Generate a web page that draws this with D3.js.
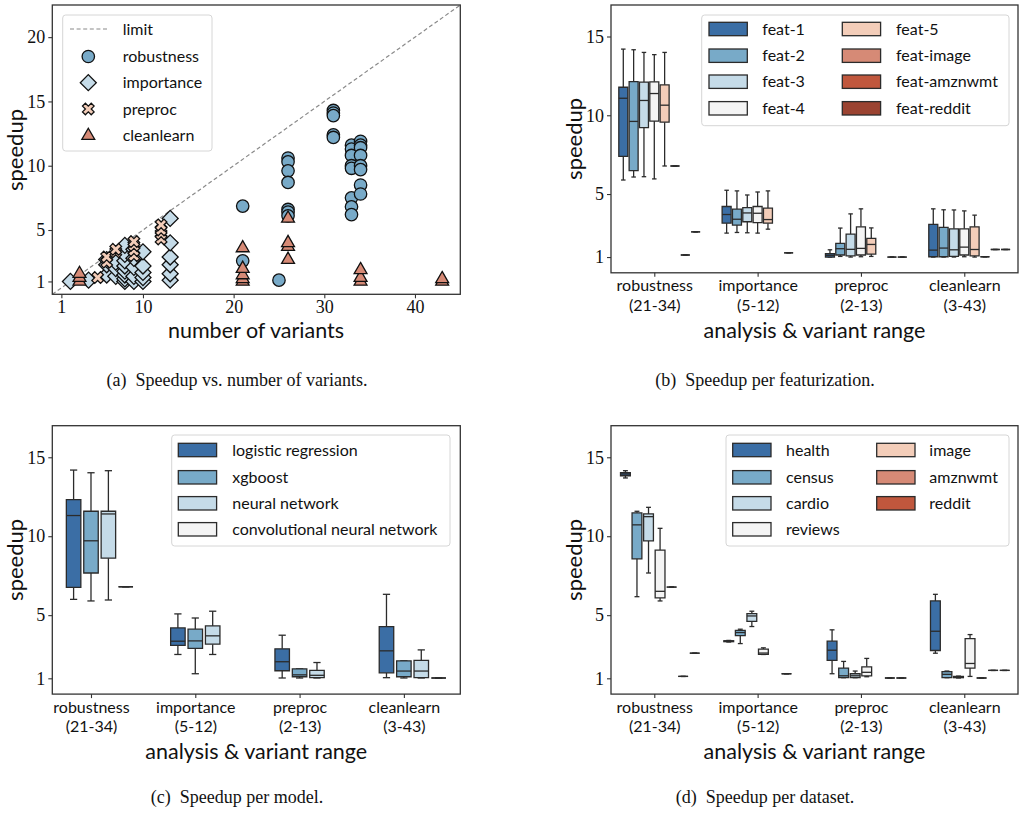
<!DOCTYPE html>
<html><head><meta charset="utf-8">
<script src="https://cdn.jsdelivr.net/npm/d3@7"></script>
<style>body{margin:0;background:#fff}svg{display:block}</style>
</head><body>
<svg id="c" width="1021" height="813"></svg>
<script>
// ---------------- DATA ----------------
const analyses = ["robustness","importance","preproc","cleanlearn"];
const analysisRanges = ["(21-34)","(5-12)","(2-13)","(3-43)"];

// (a) scatter: [number of variants, speedup]
const limitLine = [[0,0],[45,22.5]];
const robustnessPts = [[21,6.86],[21,2.6],[25,1.1],[26,10.6],[26,10.3],[26,9.6],[26,8.7],[26,6.6],[26,6.4],[26,6.1],
  [31,14.3],[31,14.1],[31,13.9],[31,12.4],[31,12.2],
  [33,11.6],[33,11.3],[33,10.8],[33,10.0],[33,9.8],[33,7.5],[33,6.8],[33,6.2],
  [34,11.9],[34,11.6],[34,11.4],[34,10.8],[34,10.0],[34,9.7],[34,8.5],[34,7.8]];
const importancePts = [[2,1.0],[4,1.1],[6,1.5],[6,2.3],[6,2.7],[7,1.4],[7,2.0],[7,2.5],
  [8,1.0],[8,1.2],[8,1.5],[8,1.8],[8,2.2],[8,2.6],[8,3.1],[8,3.8],
  [9,1.0],[9,1.4],[9,2.1],[9,2.8],[9,3.5],[10,1.0],[10,1.3],[10,1.7],[10,2.2],[10,3.3],
  [13,1.1],[13,1.6],[13,2.3],[13,2.9],[13,4.0],[13,5.9]];
const preprocPts = [[5,1.3],[6,2.5],[6,2.9],[7,3.3],[7,3.5],[9,3.0],[9,3.4],[9,3.8],[9,4.1],
  [12,4.3],[12,4.7],[12,5.0],[12,5.4]];
const cleanlearnPts = [[3,1.0],[3,1.3],[3,1.6],[21,1.0],[21,1.2],[21,1.5],[21,2.0],[21,3.6],
  [26,2.7],[26,3.7],[26,4.0],[26,5.9],[34,1.0],[34,1.3],[34,1.9],[43,1.0],[43,1.2]];
const scatterXTicks = [1,10,20,30,40];
const scatterYTicks = [1,5,10,15,20];
const boxYTicks = [1,5,10,15];

// (b) featurization boxes: [analysis, level, low, q1, median, q3, high]
const featLevels = ["feat-1","feat-2","feat-3","feat-4","feat-5","feat-image","feat-amznwmt","feat-reddit"];
const featColors = ["#3b6ea5","#78aac8","#c5dbe8","#f4f4f4","#f3cdb9","#d68a76","#c0573d","#9b4331"];
const featBoxes = [
  ["robustness","feat-1",5.89,7.39,11.08,11.78,14.2],
  ["robustness","feat-2",6.08,6.49,9.61,12.14,14.16],
  ["robustness","feat-3",6.1,9.21,10.94,12.1,13.99],
  ["robustness","feat-4",5.96,9.63,11.38,12.12,13.85],
  ["robustness","feat-5",6.78,9.56,10.64,11.93,13.99],
  ["robustness","feat-image",6.78,6.78,6.78,6.78,6.78],
  ["robustness","feat-amznwmt",1.13,1.13,1.13,1.13,1.13],
  ["robustness","feat-reddit",2.6,2.6,2.6,2.6,2.6],
  ["importance","feat-1",2.52,3.15,3.7,4.21,5.24],
  ["importance","feat-2",2.56,3.03,3.4,4.04,5.2],
  ["importance","feat-3",2.54,3.24,3.8,4.14,4.94],
  ["importance","feat-4",2.52,3.19,3.78,4.21,5.13],
  ["importance","feat-5",2.77,3.15,3.38,4.1,5.2],
  ["importance","feat-amznwmt",1.27,1.27,1.27,1.27,1.27],
  ["preproc","feat-1",1.0,1.0,1.1,1.21,1.46],
  ["preproc","feat-2",1.04,1.13,1.53,1.87,2.84],
  ["preproc","feat-3",1.0,1.08,1.49,2.46,3.74],
  ["preproc","feat-4",1.02,1.13,1.55,2.92,4.06],
  ["preproc","feat-5",1.04,1.19,1.8,2.18,2.85],
  ["preproc","feat-amznwmt",1.0,1.0,1.0,1.0,1.0],
  ["preproc","feat-reddit",1.0,1.0,1.0,1.0,1.0],
  ["cleanlearn","feat-1",1.0,1.02,1.44,3.07,4.06],
  ["cleanlearn","feat-2",1.0,1.02,1.57,2.88,4.0],
  ["cleanlearn","feat-3",1.0,1.04,1.46,2.79,3.99],
  ["cleanlearn","feat-4",1.02,1.13,1.63,2.79,3.93],
  ["cleanlearn","feat-5",1.0,1.08,1.48,2.92,3.66],
  ["cleanlearn","feat-image",1.02,1.02,1.02,1.02,1.02],
  ["cleanlearn","feat-amznwmt",1.48,1.48,1.48,1.48,1.48],
  ["cleanlearn","feat-reddit",1.48,1.48,1.48,1.48,1.48]
];

// (c) model boxes
const modelLevels = ["logistic regression","xgboost","neural network","convolutional neural network"];
const modelColors = ["#3b6ea5","#78aac8","#c5dbe8","#f4f4f4"];
const modelBoxes = [
  ["robustness","logistic regression",6.0,6.76,11.31,12.32,14.19],
  ["robustness","xgboost",5.9,7.67,9.71,11.58,14.02],
  ["robustness","neural network",5.96,8.61,11.41,11.58,14.15],
  ["robustness","convolutional neural network",6.8,6.8,6.8,6.8,6.8],
  ["importance","logistic regression",2.51,3.08,3.35,4.19,5.08],
  ["importance","xgboost",1.29,2.89,3.37,4.11,4.82],
  ["importance","neural network",2.51,3.16,3.69,4.32,5.25],
  ["preproc","logistic regression",1.02,1.48,2.05,2.87,3.73],
  ["preproc","xgboost",1.02,1.1,1.22,1.6,1.6],
  ["preproc","neural network",1.02,1.04,1.19,1.5,2.0],
  ["cleanlearn","logistic regression",1.04,1.35,2.74,4.28,6.32],
  ["cleanlearn","xgboost",1.02,1.1,1.46,2.11,2.11],
  ["cleanlearn","neural network",1.02,1.04,1.46,2.13,2.8],
  ["cleanlearn","convolutional neural network",1.02,1.02,1.02,1.02,1.02]
];

// (d) dataset boxes
const datasetLevels = ["health","census","cardio","reviews","image","amznwmt","reddit"];
const datasetColors = ["#3b6ea5","#78aac8","#c5dbe8","#f4f4f4","#f3cdb9","#d68a76","#c0573d"];
const datasetBoxes = [
  ["robustness","health",13.69,13.83,13.94,14.02,14.15],
  ["robustness","census",6.17,8.57,10.72,11.48,11.58],
  ["robustness","cardio",7.67,9.71,11.24,11.41,11.83],
  ["robustness","reviews",5.9,6.09,6.51,9.12,10.5],
  ["robustness","image",6.78,6.78,6.78,6.78,6.78],
  ["robustness","amznwmt",1.12,1.12,1.12,1.12,1.12],
  ["robustness","reddit",2.59,2.59,2.59,2.59,2.59],
  ["importance","health",3.3,3.32,3.35,3.38,3.4],
  ["importance","census",3.2,3.71,3.9,4.03,4.11],
  ["importance","cardio",4.28,4.61,4.95,5.1,5.25],
  ["importance","reviews",2.51,2.51,2.6,2.85,2.93],
  ["importance","amznwmt",1.29,1.29,1.29,1.29,1.29],
  ["preproc","health",1.29,2.13,2.78,3.35,4.07],
  ["preproc","census",1.04,1.04,1.16,1.65,2.07],
  ["preproc","cardio",1.04,1.04,1.16,1.29,1.46],
  ["preproc","reviews",1.1,1.16,1.38,1.73,2.26],
  ["preproc","amznwmt",1.02,1.02,1.02,1.02,1.02],
  ["preproc","reddit",1.02,1.02,1.02,1.02,1.02],
  ["cleanlearn","health",2.59,2.76,3.98,5.9,6.32],
  ["cleanlearn","census",1.04,1.04,1.25,1.42,1.46],
  ["cleanlearn","cardio",1.02,1.04,1.08,1.12,1.14],
  ["cleanlearn","reviews",1.12,1.65,1.94,3.52,3.77],
  ["cleanlearn","image",1.02,1.02,1.02,1.02,1.02],
  ["cleanlearn","amznwmt",1.5,1.5,1.5,1.5,1.5],
  ["cleanlearn","reddit",1.5,1.5,1.5,1.5,1.5]
];

const captions = ["(a)\u2002Speedup vs. number of variants.","(b)\u2002Speedup per featurization.",
                  "(c)\u2002Speedup per model.","(d)\u2002Speedup per dataset."];

// ---------------- DRAWING ----------------
const svg = d3.select("#c");
const SERIF = "'Liberation Serif','DejaVu Serif',serif";
const SANS = "Lato,'Open Sans','DejaVu Sans',sans-serif";
const INK = "#111";
const EDGE = "#2b2b2b";

function styleAxis(g){
  g.select(".domain").remove();
  g.selectAll(".tick line").attr("stroke","#333").attr("stroke-width",1.1);
  g.selectAll(".tick text").attr("fill",INK);
}
function frame(l,r,t,b){
  svg.append("rect").attr("x",l).attr("y",t).attr("width",r-l).attr("height",b-t)
    .attr("fill","none").attr("stroke","#333").attr("stroke-width",1.3);
}
function yLabel(x,y,txt){
  svg.append("text").attr("transform",`translate(${x},${y}) rotate(-90)`)
    .attr("text-anchor","middle").attr("font-family",SANS).attr("font-size",22).attr("fill",INK).text(txt);
}
function xLabel(x,y,txt){
  svg.append("text").attr("x",x).attr("y",y).attr("text-anchor","middle")
    .attr("font-family",SANS).attr("font-size",21.5).attr("fill",INK).text(txt);
}
function legendBox(x0,y0,x1,y1){
  svg.append("rect").attr("x",x0).attr("y",y0).attr("width",x1-x0).attr("height",y1-y0)
    .attr("rx",3).attr("fill","#fff").attr("fill-opacity",0.85).attr("stroke","#d6d6d6").attr("stroke-width",1);
}

// ===== Panel (a) =====
{
  const P = {l:52.3, r:460.3, t:5, b:294.3};
  const x = d3.scaleLinear().domain([0,45]).range([P.l,P.r]);
  const y = d3.scaleLinear().domain([0,22.5]).range([P.b,P.t]);
  const gx = svg.append("g").attr("transform",`translate(0,${P.b})`)
    .call(d3.axisBottom(x).tickValues(scatterXTicks).tickSize(4).tickPadding(2))
    .attr("font-family",SERIF).attr("font-size",18);
  styleAxis(gx);
  const gy = svg.append("g").attr("transform",`translate(${P.l},0)`)
    .call(d3.axisLeft(y).tickValues(scatterYTicks).tickSize(4).tickPadding(3))
    .attr("font-family",SERIF).attr("font-size",18);
  styleAxis(gy);

  svg.append("clipPath").attr("id","clipA").append("rect")
    .attr("x",P.l).attr("y",P.t).attr("width",P.r-P.l).attr("height",P.b-P.t);
  const plot = svg.append("g").attr("clip-path","url(#clipA)");
  plot.append("path").datum(limitLine)
    .attr("d",d3.line().x(d=>x(d[0])).y(d=>y(d[1])))
    .attr("fill","none").attr("stroke","#8a8a8a").attr("stroke-width",1.2).attr("stroke-dasharray","4,2.6");

  const series = [
    {pts:robustnessPts, sym:d3.symbol(d3.symbolCircle,121), rot:0, fill:"#78aac8", name:"robustness"},
    {pts:importancePts, sym:d3.symbol(d3.symbolSquare,128), rot:45, fill:"#c5dbe8", name:"importance"},
    {pts:preprocPts, sym:d3.symbol(d3.symbolCross,84), rot:45, fill:"#f3cdb9", name:"preproc"},
    {pts:cleanlearnPts, sym:d3.symbol(d3.symbolTriangle,72), rot:0, fill:"#d68a76", name:"cleanlearn"}
  ];
  series.forEach(s=>{
    plot.append("g").selectAll("path").data(s.pts).join("path")
      .attr("d",s.sym())
      .attr("transform",d=>`translate(${x(d[0])},${y(d[1])}) rotate(${s.rot})`)
      .attr("fill",s.fill).attr("stroke","#111").attr("stroke-width",1.3);
  });
  frame(P.l,P.r,P.t,P.b);
  yLabel(23,150,"speedup");
  xLabel(256,338,"number of variants");

  // legend
  legendBox(62.7,15,212,151);
  const rows = [29,56.5,82.7,109,135.7];
  svg.append("line").attr("x1",70).attr("x2",107).attr("y1",rows[0]).attr("y2",rows[0])
    .attr("stroke","#8a8a8a").attr("stroke-width",1.2).attr("stroke-dasharray","4,2.6");
  svg.append("text").attr("x",122.7).attr("y",rows[0]).attr("dy","0.35em")
    .attr("font-family",SANS).attr("font-size",16).attr("fill",INK).text("limit");
  series.forEach((s,i)=>{
    svg.append("path").attr("d",s.sym())
      .attr("transform",`translate(88.3,${rows[i+1]}) rotate(${s.rot})`)
      .attr("fill",s.fill).attr("stroke","#111").attr("stroke-width",1.3);
    svg.append("text").attr("x",122.7).attr("y",rows[i+1]).attr("dy","0.35em")
      .attr("font-family",SANS).attr("font-size",16).attr("fill",INK).text(s.name);
  });
}

// ===== Box panels =====
function boxPanel(o){
  const y = d3.scaleLinear().domain([0,17]).range([o.b,o.t]);
  const x = d3.scaleLinear().domain(o.xDomain).range([o.l,o.r]);
  const hue = d3.scaleLinear().domain([0,1]).range([-o.hueCenter*o.hueStep,(1-o.hueCenter)*o.hueStep]);
  const gx = svg.append("g").attr("transform",`translate(0,${o.b})`)
    .call(d3.axisBottom(x).tickValues(d3.range(analyses.length)).tickSize(4).tickFormat(""));
  styleAxis(gx);
  gx.selectAll(".tick").append("text").attr("text-anchor","middle")
    .attr("font-family",SANS).attr("font-size",16).attr("fill",INK)
    .each(function(d){
      const t = d3.select(this);
      t.append("tspan").attr("x",0).attr("y",18.5).text(analyses[d]);
      t.append("tspan").attr("x",0).attr("y",38).text(analysisRanges[d]);
    });
  const gy = svg.append("g").attr("transform",`translate(${o.l},0)`)
    .call(d3.axisLeft(y).tickValues(boxYTicks).tickSize(4).tickPadding(3))
    .attr("font-family",SERIF).attr("font-size",18);
  styleAxis(gy);

  const color = d3.scaleOrdinal().domain(o.levels).range(o.colors);
  const g = svg.append("g");
  const bw = o.boxW;
  o.rows.forEach(r=>{
    const [an,lv,lo,q1,md,q3,hi] = r;
    const cx = x(analyses.indexOf(an) + hue(o.levels.indexOf(lv)));
    const half = (x(bw) - x(0))/2;
    const capHalf = half*0.5;
    const bg = g.append("g");
    bg.append("line").attr("x1",cx).attr("x2",cx).attr("y1",y(q3)).attr("y2",y(hi)).attr("stroke",EDGE).attr("stroke-width",1.3);
    bg.append("line").attr("x1",cx).attr("x2",cx).attr("y1",y(q1)).attr("y2",y(lo)).attr("stroke",EDGE).attr("stroke-width",1.3);
    bg.append("line").attr("x1",cx-capHalf).attr("x2",cx+capHalf).attr("y1",y(hi)).attr("y2",y(hi)).attr("stroke",EDGE).attr("stroke-width",1.3);
    bg.append("line").attr("x1",cx-capHalf).attr("x2",cx+capHalf).attr("y1",y(lo)).attr("y2",y(lo)).attr("stroke",EDGE).attr("stroke-width",1.3);
    const p = d3.path();
    p.moveTo(cx-half,y(q3)); p.lineTo(cx+half,y(q3)); p.lineTo(cx+half,y(q1)); p.lineTo(cx-half,y(q1)); p.closePath();
    bg.append("path").attr("d",p.toString()).attr("fill",color(lv)).attr("stroke",EDGE).attr("stroke-width",1.3);
    bg.append("line").attr("x1",cx-half).attr("x2",cx+half).attr("y1",y(md)).attr("y2",y(md)).attr("stroke",EDGE).attr("stroke-width",1.3);
  });
  frame(o.l,o.r,o.t,o.b);
  yLabel(o.yLabX,(o.t+o.b)/2,"speedup");
  xLabel((o.l+o.r)/2, o.xLabY, "analysis & variant range");

  legendBox(...o.leg.box);
  o.levels.forEach((lv,i)=>{
    const col = Math.floor(i/o.leg.perCol), row = i%o.leg.perCol;
    const ry = o.leg.rows[row];
    const sx = o.leg.swX[col], tx = o.leg.txX[col];
    svg.append("rect").attr("x",sx).attr("y",ry-6.7).attr("width",38.3).attr("height",13.4)
      .attr("fill",color(lv)).attr("stroke",EDGE).attr("stroke-width",1.3);
    svg.append("text").attr("x",tx).attr("y",ry).attr("dy","0.35em")
      .attr("font-family",SANS).attr("font-size",16).attr("fill",INK).text(lv);
  });
}

boxPanel({l:611,r:1018,t:5,b:272.8, xDomain:[-0.419,3.52], hueStep:0.1, hueCenter:3, boxW:0.087,
  levels:featLevels, colors:featColors, rows:featBoxes, yLabX:582, xLabY:337.5,
  leg:{box:[701.7,15,1009,125.7], rows:[29,55.7,81.7,108.3], perCol:4, swX:[709,842.3], txX:[762.3,896]}});

boxPanel({l:52.3,r:460.3,t:425.7,b:694.1, xDomain:[-0.371,3.541], hueStep:0.1668, hueCenter:1, boxW:0.139,
  levels:modelLevels, colors:modelColors, rows:modelBoxes, yLabX:23, xLabY:758.5,
  leg:{box:[171.7,435,450,546], rows:[450,477.3,503.3,529.3], perCol:4, swX:[178.3], txX:[232.3]}});

boxPanel({l:611,r:1018,t:425.7,b:694.1, xDomain:[-0.419,3.52], hueStep:0.1118, hueCenter:2.5, boxW:0.095,
  levels:datasetLevels, colors:datasetColors, rows:datasetBoxes, yLabX:582, xLabY:758.5,
  leg:{box:[726,435,1009,546], rows:[450,477.3,503.3,529.3], perCol:4, swX:[732.7,876.7], txX:[786,929.3]}});

// captions
[[237,386],[765,386],[237,803],[765,803]].forEach((p,i)=>{
  svg.append("text").attr("x",p[0]).attr("y",p[1]).attr("text-anchor","middle")
    .attr("font-family",SERIF).attr("font-size",18).attr("fill",INK).text(captions[i]);
});
</script>
</body></html>
